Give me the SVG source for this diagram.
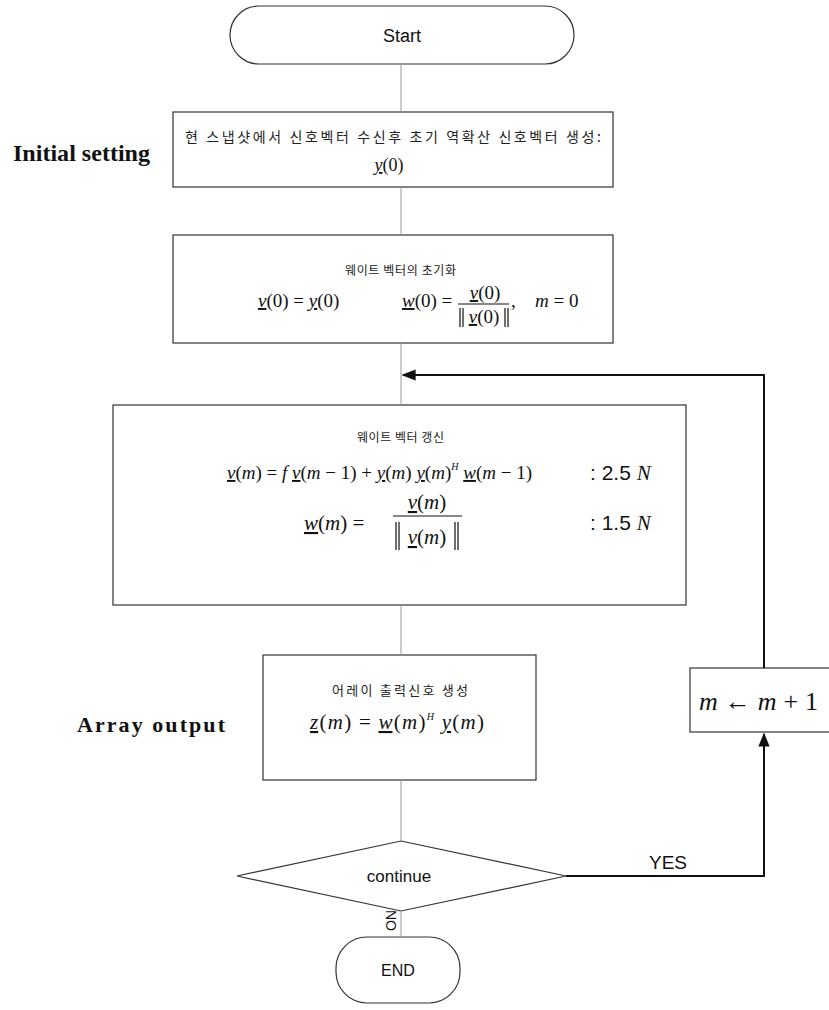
<svg xmlns="http://www.w3.org/2000/svg" width="829" height="1010" viewBox="0 0 829 1010">
  <style>
    .box { fill: #fff; stroke: #333; stroke-width: 1.2; }
    .flow { fill: none; stroke: #999; stroke-width: 1; }
    .loop { fill: none; stroke: #111; stroke-width: 2; }
    .bar { stroke: #111; stroke-width: 1.2; }
    .sans { font-family: "Liberation Sans", Arial, sans-serif; fill: #111; }
    .kr { font-family: "Noto Sans CJK KR", "Noto Sans", sans-serif; fill: #222; }
    .math { font-family: "Liberation Serif", "Times New Roman", serif; fill: #111; }
    .lbl { font-family: "Liberation Serif", "Times New Roman", serif; font-weight: bold; fill: #111; }
    .i { font-style: italic; }
    .u { text-decoration: underline; }
  </style>
  <defs>
    <marker id="arrowBig" viewBox="0 0 10 10" refX="9" refY="5" markerWidth="14" markerHeight="14" markerUnits="userSpaceOnUse" orient="auto">
      <path d="M0,1 L10,5 L0,9 z" fill="#111"/>
    </marker>
  </defs>

  <!-- start -->
  <g id="start">
    <rect class="box" x="230" y="6" width="344" height="58" rx="29"/>
    <text class="sans" x="402" y="42" font-size="18" text-anchor="middle">Start</text>
  </g>

  <!-- initial setting -->
  <g id="initial">
    <text class="lbl" x="13" y="161" font-size="23" textLength="137" lengthAdjust="spacingAndGlyphs">Initial setting</text>
    <rect class="box" x="173" y="112" width="440" height="75"/>
    <text class="kr" x="185" y="142" font-size="14" textLength="416" lengthAdjust="spacing">현 스냅샷에서 신호벡터 수신후 초기 역확산 신호벡터 생성:</text>
    <text class="math" x="389" y="171" font-size="18" text-anchor="middle"><tspan class="i u">y</tspan>(0)</text>
  </g>

  <!-- weight initialisation -->
  <g id="weight-init">
    <rect class="box" x="173" y="235" width="440" height="108"/>
    <text class="kr" x="345" y="275" font-size="12" textLength="111" lengthAdjust="spacing">웨이트 벡터의 초기화</text>
    <text class="math" x="258" y="307" font-size="19"><tspan class="i u">v</tspan>(0) = <tspan class="i u">y</tspan>(0)</text>
    <text class="math" x="402" y="307" font-size="19"><tspan class="i u">w</tspan>(0) =</text>
    <text class="math" x="485" y="299" font-size="19" text-anchor="middle"><tspan class="i u">v</tspan>(0)</text>
    <line class="bar" x1="458" y1="304" x2="509" y2="304"/>
    <text class="math" x="484" y="323" font-size="19" text-anchor="middle"><tspan class="i u">v</tspan>(0)</text>
    <path class="bar" d="M460,308 V327 M463,308 V327 M505,308 V327 M508,308 V327" fill="none"/>
    <text class="math" x="511" y="307" font-size="19">,</text>
    <text class="math" x="535" y="307" font-size="19"><tspan class="i">m</tspan> = 0</text>
  </g>

  <!-- weight update -->
  <g id="weight-update">
    <rect class="box" x="113" y="405" width="573" height="200"/>
    <text class="kr" x="357" y="442" font-size="12" textLength="87" lengthAdjust="spacing">웨이트 벡터 갱신</text>
    <text class="math" x="227" y="479" font-size="19"><tspan class="i u">v</tspan>(<tspan class="i">m</tspan>) = <tspan class="i">f</tspan> <tspan class="i u">v</tspan>(<tspan class="i">m</tspan> − 1) + <tspan class="i u">y</tspan>(<tspan class="i">m</tspan>) <tspan class="i u">y</tspan>(<tspan class="i">m</tspan>)<tspan class="i" font-size="10" dy="-9">H</tspan><tspan dy="9"> </tspan><tspan class="i u">w</tspan>(<tspan class="i">m</tspan> − 1)</text>
    <text x="590" y="480"><tspan class="sans" font-size="21">: 2.5 </tspan><tspan class="math i" font-size="21">N</tspan></text>
    <text class="math" x="304" y="530" font-size="21"><tspan class="i u">w</tspan>(<tspan class="i">m</tspan>) =</text>
    <text class="math" x="427" y="509" font-size="21" text-anchor="middle"><tspan class="i u">v</tspan>(<tspan class="i">m</tspan>)</text>
    <line class="bar" x1="393" y1="516" x2="462" y2="516"/>
    <text class="math" x="427" y="544" font-size="21" text-anchor="middle"><tspan class="i u">v</tspan>(<tspan class="i">m</tspan>)</text>
    <path class="bar" d="M396,522 V550 M399,522 V550 M455,522 V550 M458,522 V550" fill="none"/>
    <text x="590" y="530"><tspan class="sans" font-size="21">: 1.5 </tspan><tspan class="math i" font-size="21">N</tspan></text>
  </g>

  <!-- array output -->
  <g id="array-output">
    <text class="lbl" x="77" y="732" font-size="22" textLength="148" lengthAdjust="spacing">Array output</text>
    <rect class="box" x="263" y="655" width="273" height="125"/>
    <text class="kr" x="332" y="695" font-size="13" textLength="136" lengthAdjust="spacing">어레이 출력신호 생성</text>
    <text class="math" x="310" y="729" font-size="21" textLength="174" lengthAdjust="spacing"><tspan class="i u">z</tspan>(<tspan class="i">m</tspan>) = <tspan class="i u">w</tspan>(<tspan class="i">m</tspan>)<tspan class="i" font-size="10" dy="-9">H</tspan><tspan dy="9"> </tspan><tspan class="i u">y</tspan>(<tspan class="i">m</tspan>)</text>
  </g>

  <!-- counter increment -->
  <g id="increment">
    <rect class="box" x="690" y="668" width="145" height="64"/>
    <text class="math" x="699" y="710" font-size="26" textLength="119" lengthAdjust="spacing"><tspan class="i">m</tspan> ← <tspan class="i">m</tspan> + 1</text>
  </g>

  <!-- decision -->
  <g id="decision">
    <polygon class="box" points="401,841 566,876 401,911 237,876"/>
    <text class="sans" x="399" y="882" font-size="17" text-anchor="middle">continue</text>
  </g>

  <!-- end -->
  <g id="end">
    <rect class="box" x="336" y="937" width="124" height="66" rx="31"/>
    <text class="sans" x="398" y="976" font-size="16" text-anchor="middle">END</text>
  </g>

  <!-- connectors -->
  <g id="connectors">
    <line class="flow" x1="401" y1="64" x2="401" y2="112"/>
    <line class="flow" x1="401" y1="187" x2="401" y2="235"/>
    <line class="flow" x1="401" y1="343" x2="401" y2="405"/>
    <line class="flow" x1="401" y1="605" x2="401" y2="655"/>
    <line class="flow" x1="401" y1="780" x2="401" y2="841"/>
    <line class="flow" x1="401" y1="911" x2="401" y2="937"/>
    <!-- loop back: continue -> m+1 -> update -->
    <polyline class="loop" points="566,876 764,876 764,734" marker-end="url(#arrowBig)"/>
    <polyline class="loop" points="764,668 764,375 403,375" marker-end="url(#arrowBig)"/>
    <text class="sans" x="668" y="869" font-size="19" text-anchor="middle">YES</text>
    <text class="sans" x="0" y="0" font-size="14" transform="translate(386,910) rotate(90)">NO</text>
  </g>
</svg>
